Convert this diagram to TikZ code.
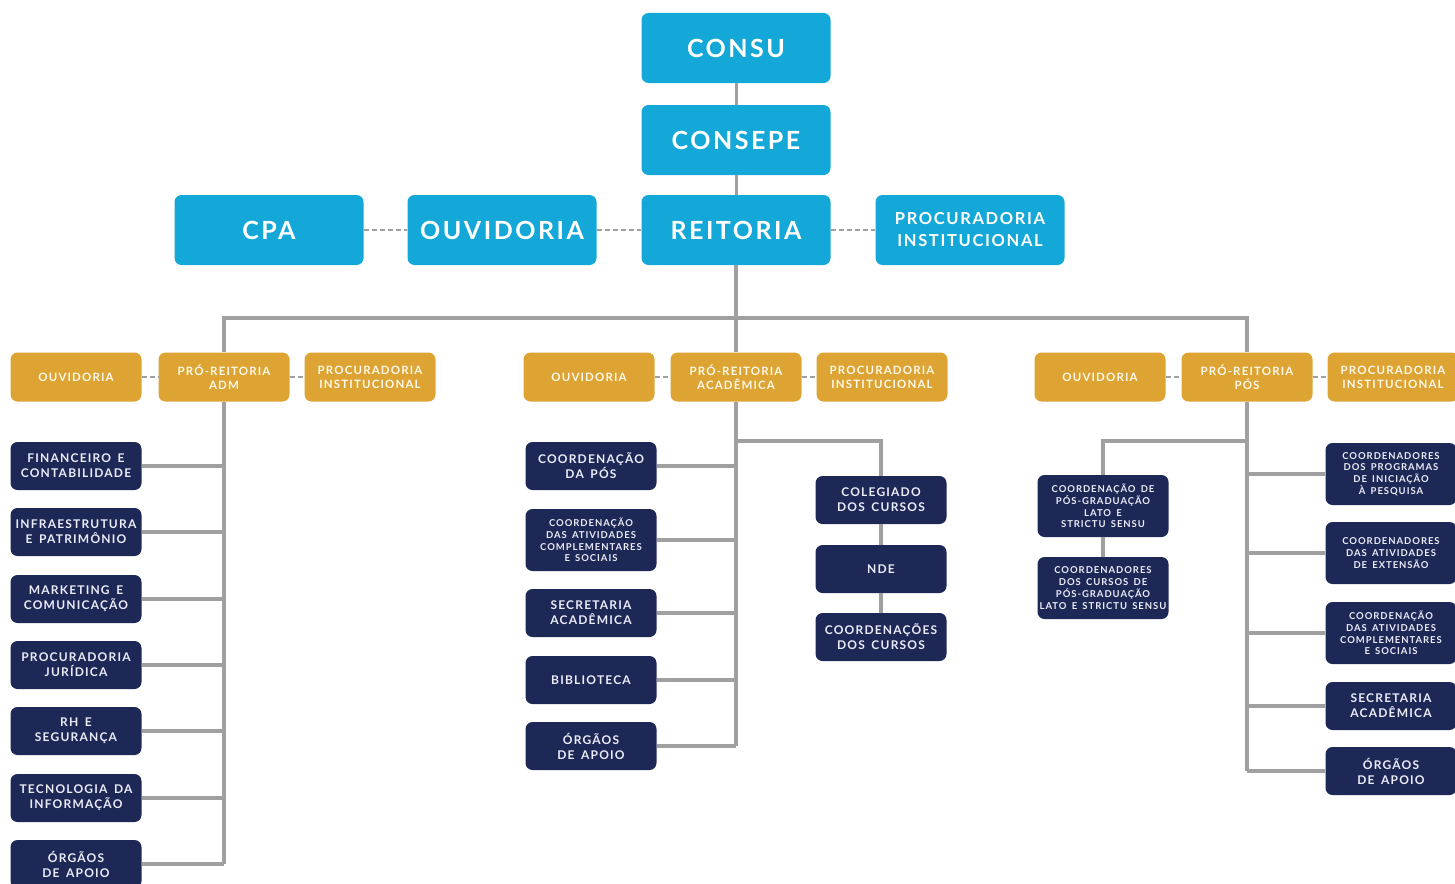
\documentclass[tikz,border=0pt]{standalone}
\usepackage{fontspec}
\newfontfamily\orgfont{Lato}[LetterSpace=10, WordSpace=1.6]
\definecolor{orgcyan}{RGB}{20,168,216}
\definecolor{orggold}{RGB}{221,164,52}
\definecolor{orgnavy}{RGB}{30,40,86}
\definecolor{orggray}{RGB}{160,160,160}
\definecolor{orgpale}{RGB}{234,236,248}
\definecolor{orgcream}{RGB}{255,248,232}
\usetikzlibrary{positioning}

\begin{document}
\begin{tikzpicture}[x=1pt, y=-1pt,
  topbox/.style={fill=orgcyan, rounded corners=7pt, minimum width=189pt, minimum height=70pt,
    inner sep=0pt, align=center, text=white, font=\orgfont\bfseries\fontsize{25}{28}\selectfont},
  probox/.style={fill=orggold, rounded corners=7pt, minimum width=131pt, minimum height=49pt,
    inner sep=0pt, align=center, text=orgcream, font=\orgfont\bfseries\fontsize{11.5}{14}\selectfont},
  unitbox/.style={fill=orgnavy, rounded corners=7pt, minimum width=131pt, minimum height=48pt,
    inner sep=0pt, align=center, text=orgpale, font=\orgfont\bfseries\fontsize{12}{15}\selectfont},
  smalltext/.style={font=\orgfont\bfseries\fontsize{9.5}{11.8}\selectfont},
  link/.style={draw=orggray, line width=3.8pt},
  dashlink/.style={draw=orggray, line width=1.8pt, dash pattern=on 5pt off 3pt}]

\useasboundingbox (0,0) rectangle (1455,883);

% Connectors first, boxes on top
\coordinate (bus) at (736,318);
\coordinate (mfork) at (736,441);
\coordinate (pfork) at (1247,441);

% Conselhos e reitoria
\node[topbox] (consu) at (736,48) {CONSU};
\node[topbox] (consepe) at (736,140) {CONSEPE};
\node[topbox] (reit) at (736,230) {REITORIA};
\node[topbox] (cpa) at (269,230) {CPA};
\node[topbox] (ouv) at (502,230) {OUVIDORIA};
\node[topbox, font=\orgfont\bfseries\fontsize{16.5}{22}\selectfont] (proc) at (970,230) {PROCURADORIA\\INSTITUCIONAL};

% Pro-reitorias
\node[probox] (aouv) at (76,377) {OUVIDORIA};
\node[probox] (padm) at (224,377) {PRÓ-REITORIA\\ADM};
\node[probox] (aproc) at (370,377) {PROCURADORIA\\INSTITUCIONAL};
\node[probox] (mouv) at (589,377) {OUVIDORIA};
\node[probox] (pacad) at (736,377) {PRÓ-REITORIA\\ACADÊMICA};
\node[probox] (mproc) at (882,377) {PROCURADORIA\\INSTITUCIONAL};
\node[probox] (rouv) at (1100,377) {OUVIDORIA};
\node[probox] (ppos) at (1247,377) {PRÓ-REITORIA\\PÓS};
\node[probox] (rproc) at (1393,377) {PROCURADORIA\\INSTITUCIONAL};

% Setores ADM
\node[unitbox] (a1) at (76,466) {FINANCEIRO E\\CONTABILIDADE};
\node[unitbox] (a2) at (76,532) {INFRAESTRUTURA\\E PATRIMÔNIO};
\node[unitbox] (a3) at (76,599) {MARKETING E\\COMUNICAÇÃO};
\node[unitbox] (a4) at (76,665) {PROCURADORIA\\JURÍDICA};
\node[unitbox] (a5) at (76,731) {RH E\\SEGURANÇA};
\node[unitbox] (a6) at (76,798) {TECNOLOGIA DA\\INFORMAÇÃO};
\node[unitbox] (a7) at (76,864) {ÓRGÃOS\\DE APOIO};

% Setores academicos
\node[unitbox] (m1) at (591,466) {COORDENAÇÃO\\DA PÓS};
\node[unitbox, smalltext, minimum height=62pt] (m2) at (591,540) {COORDENAÇÃO\\DAS ATIVIDADES\\COMPLEMENTARES\\E SOCIAIS};
\node[unitbox] (m3) at (591,613) {SECRETARIA\\ACADÊMICA};
\node[unitbox] (m4) at (591,680) {BIBLIOTECA};
\node[unitbox] (m5) at (591,746) {ÓRGÃOS\\DE APOIO};
\node[unitbox] (col) at (881,500) {COLEGIADO\\DOS CURSOS};
\node[unitbox] (nde) at (881,569) {NDE};
\node[unitbox] (cc) at (881,637) {COORDENAÇÕES\\DOS CURSOS};

% Setores pos
\node[unitbox, smalltext, minimum height=62pt] (lato) at (1103,506) {COORDENAÇÃO DE\\PÓS-GRADUAÇÃO\\LATO E\\STRICTU SENSU};
\node[unitbox, smalltext, minimum height=62pt] (cpos) at (1103,588) {COORDENADORES\\DOS CURSOS DE\\PÓS-GRADUAÇÃO\\LATO E STRICTU SENSU};
\node[unitbox, smalltext, minimum height=62pt] (r1) at (1391,474) {COORDENADORES\\DOS PROGRAMAS\\DE INICIAÇÃO\\À PESQUISA};
\node[unitbox, smalltext, minimum height=62pt] (r2) at (1391,553) {COORDENADORES\\DAS ATIVIDADES\\DE EXTENSÃO};
\node[unitbox, smalltext, minimum height=62pt] (r3) at (1391,633) {COORDENAÇÃO\\DAS ATIVIDADES\\COMPLEMENTARES\\E SOCIAIS};
\node[unitbox] (r4) at (1391,706) {SECRETARIA\\ACADÊMICA};
\node[unitbox] (r5) at (1391,771) {ÓRGÃOS\\DE APOIO};

% Vertical chain
\draw[link, line width=3pt] (consu) -- (consepe);
\draw[link, line width=3pt] (consepe) -- (reit);
\draw[link] (reit) -- (bus);
\draw[link] (padm.north) |- (bus) -| (ppos.north);
\draw[link] (bus) -- (pacad);

% Dashed side links
\draw[dashlink] (cpa) -- (ouv);
\draw[dashlink] (ouv) -- (reit);
\draw[dashlink] (reit) -- (proc);
\draw[dashlink] (aouv) -- (padm);
\draw[dashlink] (padm) -- (aproc);
\draw[dashlink] (mouv) -- (pacad);
\draw[dashlink] (pacad) -- (mproc);
\draw[dashlink] (rouv) -- (ppos);
\draw[dashlink] (ppos) -- (rproc);

% Trees
\draw[link] (padm.south) -- (padm.south |- a7);
\foreach \i in {1,...,7} \draw[link] (a\i.east) -- (a\i -| padm);
\draw[link] (pacad.south) -- (pacad.south |- m5);
\foreach \i in {1,...,5} \draw[link] (m\i.east) -- (m\i -| pacad);
\draw[link] (mfork) -| (col.north);
\draw[link] (col) -- (nde);
\draw[link] (nde) -- (cc);
\draw[link] (ppos.south) -- (ppos.south |- r5);
\foreach \i in {1,...,5} \draw[link] (r\i.west) -- (r\i -| ppos);
\draw[link] (pfork) -| (lato.north);
\draw[link] (lato) -- (cpos);

\end{tikzpicture}
\end{document}
